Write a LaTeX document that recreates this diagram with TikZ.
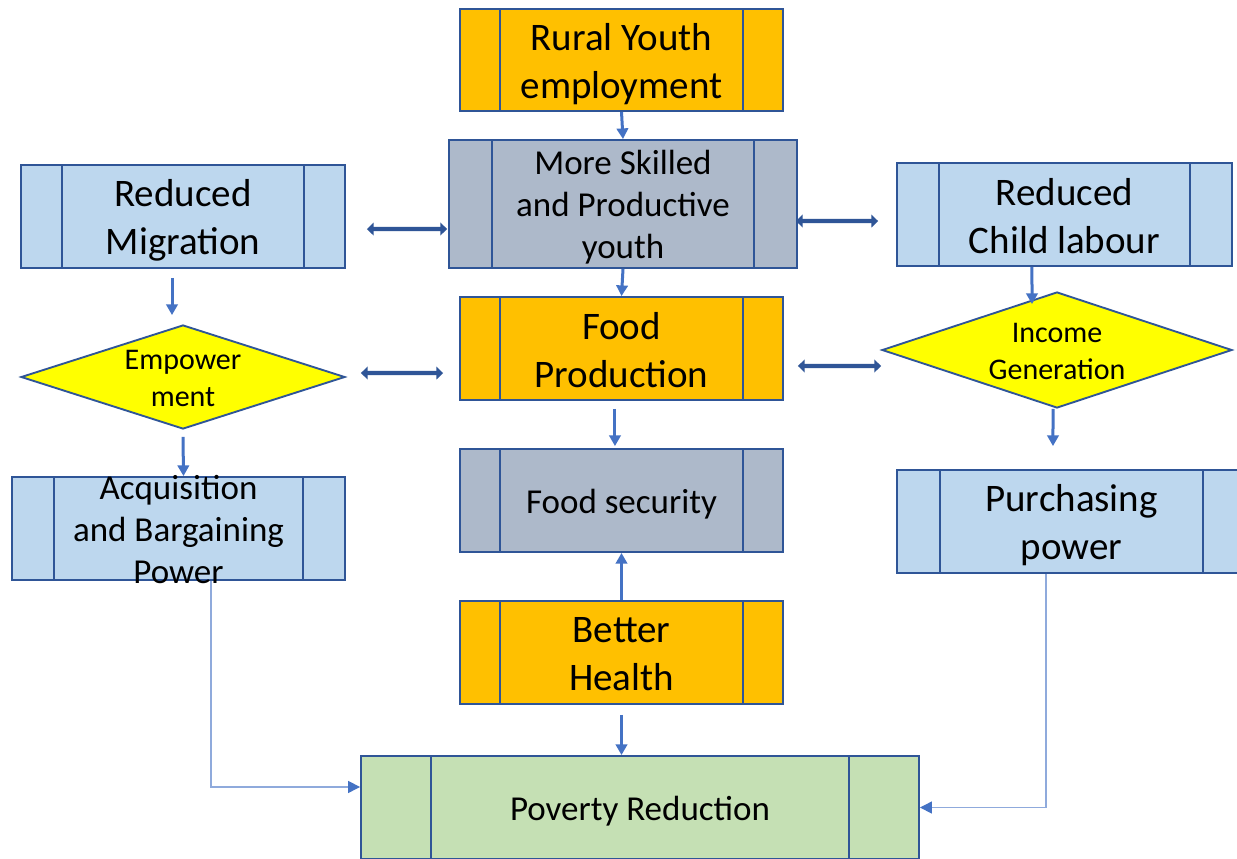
\documentclass[tikz,border=0pt]{standalone}
\usepackage{fontspec}
\setmainfont{Carlito}
\usetikzlibrary{shapes.geometric,arrows.meta,calc}
\definecolor{bord}{RGB}{47,85,151}
\definecolor{orangeF}{RGB}{255,192,0}
\definecolor{greyF}{RGB}{173,185,202}
\definecolor{blueF}{RGB}{189,215,238}
\definecolor{yellowF}{RGB}{255,255,0}
\definecolor{greenF}{RGB}{197,224,180}
\definecolor{arrowblue}{RGB}{68,114,196}
\definecolor{thinblue}{RGB}{143,170,220}
\tikzset{
  inset/.store in=\procinset, inset=42,
  procbox/.style={draw=bord, line width=1.4pt, rectangle, inner sep=0pt,
    path picture={
      \draw[bord, line width=1.4pt] ($(path picture bounding box.north west)+(\procinset,0)$) -- ($(path picture bounding box.south west)+(\procinset,0)$);
      \draw[bord, line width=1.4pt] ($(path picture bounding box.north east)-(\procinset,0)$) -- ($(path picture bounding box.south east)-(\procinset,0)$);
    }},
  diabox/.style={draw=bord, line width=1.4pt, diamond, fill=yellowF, inner sep=0pt},
  sz/.style 2 args={minimum width=#1, minimum height=#2},
  boxtxt/.style={align=center, inner sep=0pt, text=black},
  big/.style={boxtxt, font=\fontsize{29.25}{36}\selectfont},
  mid/.style={boxtxt, font=\fontsize{26.25}{31.5}\selectfont},
  small/.style={boxtxt, font=\fontsize{22.5}{27.75}\selectfont},
  arr/.style={draw=arrowblue, line width=2.25pt, -{Triangle[length=8pt,width=8.5pt]}},
  dbl/.style={draw=bord, line width=3.2pt, {Triangle[length=5pt,width=9.5pt]}-{Triangle[length=5pt,width=9.5pt]}},
  thinarr/.style={draw=thinblue, line width=1pt, -{Triangle[length=9pt,width=9pt,color=arrowblue]}}
}
\begin{document}
\begin{tikzpicture}[x=0.75pt,y=-0.75pt]
\clip (0,0) rectangle (1237,858);
\fill[white] (0,0) rectangle (1237,858);

% boxes
\node[procbox, fill=orangeF, sz={242.25pt}{76.5pt}, inset=40] (ry) at (621.5,60) {};
\node[procbox, fill=greyF, sz={261pt}{96pt}, inset=43] (ms) at (623,204) {};
\node[procbox, fill=blueF, sz={243pt}{77.25pt}, inset=41] (rm) at (183,216.5) {};
\node[procbox, fill=blueF, sz={251.25pt}{77.25pt}, inset=42] (rc) at (1064.5,214.5) {};
\node[procbox, fill=orangeF, sz={242.25pt}{77.25pt}, inset=40] (fp) at (621.5,348.5) {};
\node[diabox, sz={243pt}{78pt}] (em) at (183,377) {};
\node[diabox, sz={262.5pt}{87pt}] (ig) at (1057,350) {};
\node[procbox, fill=blueF, sz={249.75pt}{77.25pt}, inset=42] (ab) at (178.5,528.5) {};
\node[procbox, fill=greyF, sz={242.25pt}{77.25pt}, inset=40] (fs) at (621.5,500.5) {};
\node[procbox, fill=blueF, sz={261.75pt}{77.25pt}, inset=43] (pp) at (1071.5,521.5) {};
\node[procbox, fill=orangeF, sz={242.25pt}{77.25pt}, inset=40] (bh) at (621.5,652.5) {};
\node[procbox, fill=greenF, sz={418.5pt}{77.25pt}, inset=70] (pr) at (640,807.5) {};

% texts
\node[big] (ryt) at ([yshift=-3pt]ry.center) {Rural Youth\\employment};
\node[mid] (mst) at ([yshift=-2.6pt]ms.center) {More Skilled\\and Productive\\youth};
\node[big] (rmt) at ([yshift=-3pt]rm.center) {Reduced\\Migration};
\node[big] (rct) at ([yshift=-1.5pt]rc.center) {Reduced\\Child labour};
\node[big] (fpt) at ([yshift=-1.2pt]fp.center) {Food\\Production};
\node[small] (emt) at ([yshift=-1.1pt]em.center) {Empower\\ment};
\node[small] (igt) at ([yshift=-1.1pt]ig.center) {Income\\Generation};
\node[mid] (abt) at ([yshift=-0.9pt]ab.center) {Acquisition\\and Bargaining\\Power};
\node[mid] (fst) at ([yshift=-3pt]fs.center) {Food security};
\node[big] (ppt) at ([yshift=-3pt]pp.center) {Purchasing\\power};
\node[big] (bht) at ([yshift=-1.5pt]bh.center) {Better\\Health};
\node[mid] (prt) at ([yshift=-3pt]pr.center) {Poverty Reduction};

% vertical arrows
\draw[arr] (ry.south) -- (ms.north);
\draw[arr] (ms.south) -- (fp.north);
\draw[arr] ([xshift=-8.25pt,yshift=-6.75pt]rm.south) -- ([xshift=-8.25pt,yshift=6.75pt]em.north);
\draw[arr] ([xshift=-24.4pt]rc.south) -- ([xshift=-18.75pt,yshift=-9.75pt]ig.north);
\draw[arr] ([yshift=-5.25pt]em.south) -- ([xshift=3.75pt]ab.north);
\draw[arr] ([xshift=-3pt]ig.south) -- ([xshift=-13.9pt,yshift=17.25pt]pp.north);
\draw[arr] ([xshift=-4.9pt,yshift=-6pt]fp.south) -- ([xshift=-4.9pt,yshift=1.5pt]fs.north);
\draw[arr] (bh.north) -- (fs.south);
\draw[arr] ([yshift=-7.5pt]bh.south) -- (bh.south |- pr.north);

% double arrows
\draw[dbl] ([xshift=15.75pt,yshift=-9.4pt]rm.east) -- ([xshift=-0.75pt,yshift=-18.75pt]ms.west);
\draw[dbl] ([xshift=-1.5pt,yshift=-12.75pt]ms.east) -- ([xshift=-13.5pt,yshift=-4.9pt]rc.west);
\draw[dbl] ([xshift=11.25pt,yshift=3pt]em.east) -- ([xshift=-12pt,yshift=-18.4pt]fp.west);
\draw[dbl] ([xshift=10.5pt,yshift=-13.1pt]fp.east) -- ([yshift=-12pt]ig.west);

% thin connectors
\draw[thinarr] ([xshift=24.4pt]ab.south) |- ([yshift=15.4pt]pr.west);
\draw[thinarr] ([xshift=-19.1pt]pp.south) |- (pr.east);
\end{tikzpicture}
\end{document}
